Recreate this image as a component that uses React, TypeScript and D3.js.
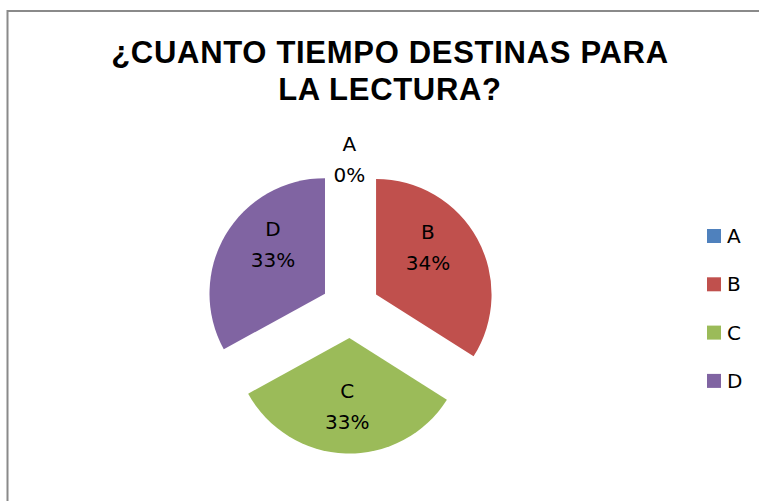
import React from "react";
import * as d3 from "d3";

const categories = ["A", "B", "C", "D"];
const values = [0, 34, 33, 33];
const colors = ["#4F81BD", "#C0504D", "#9BBB59", "#8064A2"];
const titleLines = ["¿CUANTO TIEMPO DESTINAS PARA", "LA LECTURA?"];

const W = 759;
const H = 501;

export default function App() {
  const cx = 350.3;
  const cy = 308.6;
  const r = 115.5;
  const explode = 29.4;
  const total = d3.sum(values);

  const pie = d3.pie<number>().sort(null).value((d) => d);
  const arcs = pie(values);
  const arcGen = d3.arc<d3.PieArcDatum<number>>().innerRadius(0).outerRadius(r);

  const labelFont = "'DejaVu Sans', sans-serif";

  return (
    <svg
      width={W}
      height={H}
      style={{ position: "absolute", left: 0, top: 0, background: "#fff" }}
    >
      <rect x={7.5} y={11} width={W + 20} height={H + 20} fill="#fff" stroke="#8a8a8a" strokeWidth={2} />
      {titleLines.map((t, i) => (
        <text
          key={i}
          x={390}
          y={63 + i * 37}
          textAnchor="middle"
          fontFamily="'Liberation Sans', Arial, sans-serif"
          fontWeight="bold"
          fontSize={31}
          letterSpacing={0.7}
          fill="#000"
        >
          {t}
        </text>
      ))}
      {arcs.map((a, i) => {
        const mid = (a.startAngle + a.endAngle) / 2;
        const ox = cx + explode * Math.sin(mid);
        const oy = cy - explode * Math.cos(mid);
        let lx: number, ly: number;
        if (a.value === 0) {
          lx = ox + (r + 3) * Math.sin(mid);
          ly = oy - (r + 3) * Math.cos(mid);
        } else {
          const la = mid - 0.25 * Math.sin(2 * mid);
          lx = ox + 70 * Math.sin(la);
          ly = oy - 70 * Math.cos(la);
        }
        const pct = Math.round((a.value / total) * 100) + "%";
        return (
          <g key={i}>
            {a.value > 0 && (
              <path d={arcGen(a) || ""} transform={`translate(${ox},${oy})`} fill={colors[i]} />
            )}
            <text x={lx - 1} y={ly - 9.5} textAnchor="middle" fontFamily={labelFont} fontSize={20} fill="#000">
              {categories[i]}
            </text>
            <text x={lx - 1} y={ly + 21.5} textAnchor="middle" fontFamily={labelFont} fontSize={20} fill="#000">
              {pct}
            </text>
          </g>
        );
      })}
      {categories.map((c, i) => (
        <g key={c} transform={`translate(707,${229 + i * 48.3})`}>
          <rect x={0} y={0} width={14} height={14} fill={colors[i]} />
          <text x={20} y={14} fontFamily={labelFont} fontSize={20} fill="#000">
            {c}
          </text>
        </g>
      ))}
    </svg>
  );
}
